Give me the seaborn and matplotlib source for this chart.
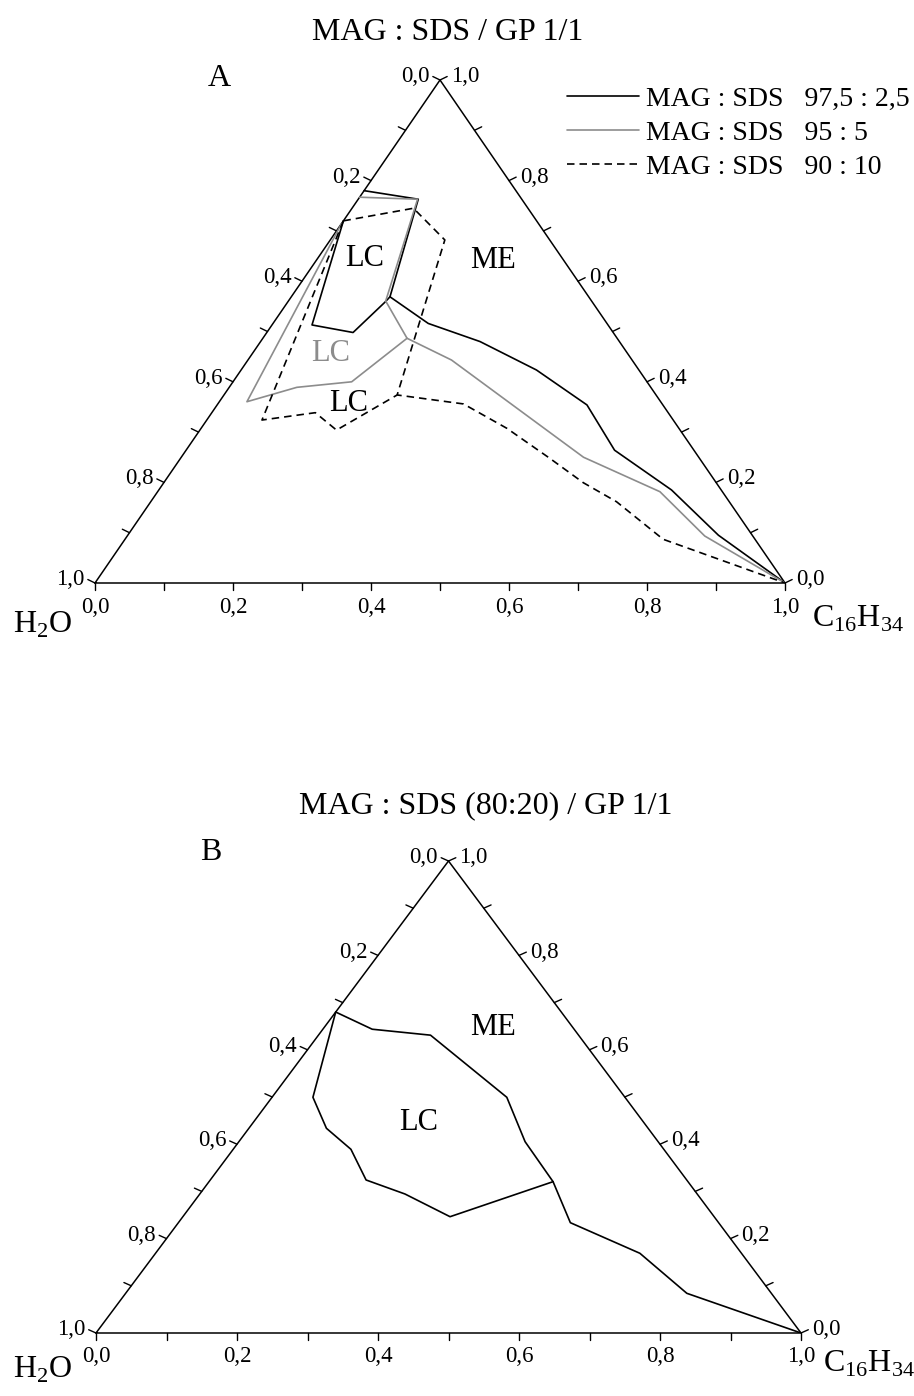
import numpy as np
import matplotlib.pyplot as plt
import seaborn as sns

SQ = np.sqrt(3) / 2

# ternary compositions: oil = C16H34 fraction, surf = MAG:SDS/GP fraction (water is the rest)
# diagram A, MAG:SDS 97,5:2,5
a1_oil = [0.0, 0.087, 0.143, 0.225, 0.318, 0.428, 0.536, 0.621, 0.743, 0.856, 1.0]
a1_surf = [0.78, 0.763, 0.569, 0.516, 0.480, 0.4235, 0.354, 0.264, 0.185, 0.095, 0.0]
a1_lc_oil = [0.0, 0.058, 0.125, 0.141, 0.143]
a1_lc_surf = [0.72, 0.513, 0.498, 0.558, 0.569]
# diagram A, MAG:SDS 95:5
a2_oil = [0.0, 0.086, 0.141, 0.209, 0.295, 0.583, 0.728, 0.837, 1.0]
a2_surf = [0.767, 0.763, 0.5606, 0.4865, 0.4433, 0.25, 0.1815, 0.0934, 0.0]
a2_lc_oil = [0.0, 0.040, 0.098, 0.172, 0.209]
a2_lc_surf = [0.715, 0.3604, 0.389, 0.400, 0.4865]
# diagram A, MAG:SDS 90:10
a3_oil = [0.0, 0.089, 0.166, 0.251, 0.356, 0.443, 0.535, 0.608, 0.675, 0.780, 1.0]
a3_surf = [0.72, 0.745, 0.682, 0.3738, 0.356, 0.3076, 0.248, 0.1994, 0.1616, 0.0869, 0.0]
a3_lc_oil = [0.0, 0.080, 0.150, 0.198, 0.251]
a3_lc_surf = [0.72, 0.324, 0.3386, 0.304, 0.3738]
# diagram B, MAG:SDS 80:20
b_oil = [0.0, 0.070, 0.159, 0.333, 0.406, 0.488, 0.556, 0.687, 0.796, 1.0]
b_surf = [0.68, 0.6436, 0.631, 0.4994, 0.4053, 0.3206, 0.2337, 0.1689, 0.0841, 0.0]
b_lc_oil = [0.0, 0.058, 0.110, 0.167, 0.221, 0.291, 0.379, 0.488]
b_lc_surf = [0.68, 0.4994, 0.4337, 0.3892, 0.3242, 0.2945, 0.2464, 0.3206]

legend_labels = ["MAG : SDS   97,5 : 2,5", "MAG : SDS   95 : 5", "MAG : SDS   90 : 10"]
tick_vals = np.round(np.arange(0, 1.01, 0.1), 1)

GRAY = "#8c8c8c"
DASH = (0, (4.5, 3))


def to_xy(oil, surf):
    oil = np.asarray(oil)
    surf = np.asarray(surf)
    return oil + surf / 2, surf * SQ


def fmt(v):
    return f"{v:.1f}".replace(".", ",")


def draw_frame(ax):
    ax.plot([0, 1, 0.5, 0], [0, 0, SQ, 0], color="black", lw=1.1, clip_on=False)
    t = 0.012
    lab = dict(textcoords="offset points", fontsize=16.5, annotation_clip=False)
    for v in tick_vals:
        # bottom axis: C16H34
        ax.plot([v, v], [0, -t], color="black", lw=1.0, clip_on=False)
        # left axis: H2O
        lx, ly = 0.5 * (1 - v), (1 - v) * SQ
        ax.plot([lx, lx - SQ * t], [ly, ly + 0.5 * t], color="black", lw=1.0, clip_on=False)
        # right axis: surfactant
        rx, ry = 1 - v / 2, v * SQ
        ax.plot([rx, rx + SQ * t], [ry, ry + 0.5 * t], color="black", lw=1.0, clip_on=False)
        if round(v * 10) % 2 == 0:
            ax.annotate(fmt(v), (v, -t), xytext=(0, -5), ha="center", va="top", **lab)
            ax.annotate(fmt(v), (lx - SQ * t, ly + 0.5 * t), xytext=(-2.5, 0),
                        ha="right", va="center", **lab)
            ax.annotate(fmt(v), (rx + SQ * t, ry + 0.5 * t), xytext=(2.5, 0),
                        ha="left", va="center", **lab)
    ax.set_xlim(0, 1)
    ax.set_ylim(0, SQ)
    ax.set_axis_off()


def curve(ax, oil, surf, **kw):
    x, y = to_xy(oil, surf)
    sns.lineplot(x=x, y=y, sort=False, estimator=None, ax=ax, lw=1.2, **kw)


sns.set_theme(style="white")
plt.rcParams["font.family"] = ["Liberation Serif", "DejaVu Serif"]
plt.rcParams["mathtext.fontset"] = "custom"
plt.rcParams["mathtext.rm"] = "Liberation Serif"
plt.rcParams["text.color"] = "black"

W, H = 914, 1396
fig = plt.figure(figsize=(W / 100, H / 100), dpi=100)
fig.patch.set_facecolor("white")

ax_a = fig.add_axes([95 / W, 1 - 583 / H, 690 / W, 503 / H])
ax_b = fig.add_axes([96 / W, 1 - 1333 / H, 705 / W, 472 / H])

# diagram A
draw_frame(ax_a)
curve(ax_a, a1_oil, a1_surf, color="black", label=legend_labels[0])
curve(ax_a, a1_lc_oil, a1_lc_surf, color="black")
curve(ax_a, a2_oil, a2_surf, color=GRAY, label=legend_labels[1])
curve(ax_a, a2_lc_oil, a2_lc_surf, color=GRAY)
curve(ax_a, a3_oil, a3_surf, color="black", linestyle=DASH, label=legend_labels[2])
curve(ax_a, a3_lc_oil, a3_lc_surf, color="black", linestyle=DASH)

handles = [l for l in ax_a.get_lines() if not l.get_label().startswith("_")]
ax_a.legend(handles=handles, labels=legend_labels, loc="upper left",
            bbox_to_anchor=(567 / W, 1 - 86 / H), bbox_transform=fig.transFigure,
            frameon=False, fontsize=20, handlelength=2.6, handletextpad=0.25,
            labelspacing=0.32, borderpad=0, borderaxespad=0)

ax_a.text(0.391, 0.646, "LC", transform=ax_a.transAxes, ha="center", va="center", fontsize=22)
ax_a.text(0.577, 0.642, "ME", transform=ax_a.transAxes, ha="center", va="center", fontsize=22)
ax_a.text(0.341, 0.457, "LC", transform=ax_a.transAxes, ha="center", va="center",
          fontsize=22, color=GRAY)
ax_a.text(0.367, 0.357, "LC", transform=ax_a.transAxes, ha="center", va="center", fontsize=22)

# diagram B
draw_frame(ax_b)
curve(ax_b, b_oil, b_surf, color="black")
curve(ax_b, b_lc_oil, b_lc_surf, color="black")
ax_b.text(0.458, 0.447, "LC", transform=ax_b.transAxes, ha="center", va="center", fontsize=22)
ax_b.text(0.563, 0.648, "ME", transform=ax_b.transAxes, ha="center", va="center", fontsize=22)

# titles, panel letters, vertex names
fig.text(448 / W, 1 - 32 / H, "MAG : SDS / GP 1/1", ha="center", va="center", fontsize=23)
fig.text(486 / W, 1 - 806 / H, "MAG : SDS (80:20) / GP 1/1", ha="center", va="center", fontsize=23)
fig.text(219 / W, 1 - 78 / H, "A", ha="center", va="center", fontsize=23)
fig.text(211 / W, 1 - 852 / H, "B", ha="center", va="center", fontsize=23)

water = r"H$_\mathregular{2}$O"
oil = r"C$_\mathregular{16}$H$_\mathregular{34}$"
fig.text(13 / W, 1 - 633 / H, water, ha="left", va="baseline", fontsize=23)
fig.text(812 / W, 1 - 627 / H, oil, ha="left", va="baseline", fontsize=23)
fig.text(13 / W, 1 - 1378 / H, water, ha="left", va="baseline", fontsize=23)
fig.text(823 / W, 1 - 1372 / H, oil, ha="left", va="baseline", fontsize=23)

fig.savefig("out.png", dpi=100)
